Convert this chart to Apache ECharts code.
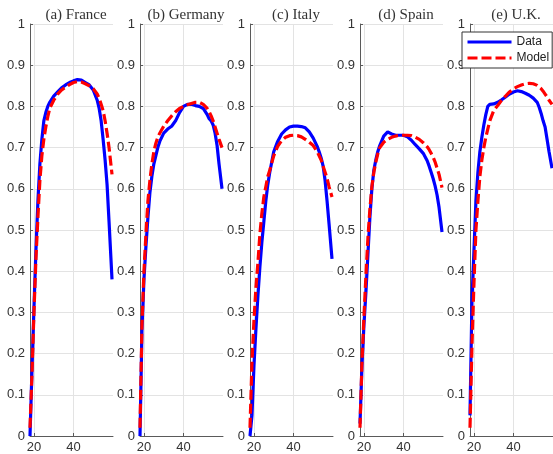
<!DOCTYPE html>
<html>
<head>
<meta charset="utf-8">
<script src="https://cdn.jsdelivr.net/npm/echarts@6/dist/echarts.min.js"></script>
<style>
  html, body { margin: 0; padding: 0; background: #fff; }
  #main { width: 553px; height: 454px; }
</style>
</head>
<body>
<div id="main"></div>
<script>
// ages (x values shared by all panels)
var ages = [18, 19, 20, 21, 22, 23, 24, 25, 26, 27, 28, 30, 32, 34, 36, 38, 40, 42, 44, 46, 48, 50, 52, 53, 54, 55, 56, 57, 58, 59.5];

var titles = ["(a) France", "(b) Germany", "(c) Italy", "(d) Spain", "(e) U.K."];

var franceData = [0, 0.16, 0.31, 0.45, 0.57, 0.66, 0.72, 0.765, 0.785, 0.80, 0.81, 0.825, 0.835, 0.845, 0.852, 0.858, 0.862, 0.865, 0.864, 0.858, 0.852, 0.84, 0.815, 0.795, 0.765, 0.72, 0.67, 0.61, 0.52, 0.38];
var franceModel = [0.02, 0.15, 0.30, 0.43, 0.53, 0.62, 0.68, 0.72, 0.75, 0.775, 0.795, 0.815, 0.83, 0.84, 0.847, 0.853, 0.858, 0.86, 0.859, 0.855, 0.85, 0.843, 0.83, 0.82, 0.805, 0.79, 0.765, 0.735, 0.70, 0.635];

var germanyData = [0, 0.26, 0.38, 0.46, 0.53, 0.59, 0.63, 0.66, 0.68, 0.70, 0.715, 0.735, 0.745, 0.752, 0.765, 0.785, 0.80, 0.805, 0.805, 0.802, 0.80, 0.795, 0.78, 0.77, 0.765, 0.755, 0.735, 0.705, 0.66, 0.60];
var germanyModel = [0.02, 0.27, 0.40, 0.49, 0.57, 0.62, 0.66, 0.69, 0.71, 0.725, 0.735, 0.752, 0.765, 0.777, 0.787, 0.795, 0.80, 0.804, 0.807, 0.81, 0.81, 0.805, 0.795, 0.787, 0.777, 0.765, 0.75, 0.735, 0.72, 0.70];

var italyData = [0, 0.05, 0.17, 0.26, 0.34, 0.41, 0.47, 0.52, 0.57, 0.61, 0.64, 0.69, 0.715, 0.733, 0.743, 0.75, 0.752, 0.752, 0.751, 0.748, 0.738, 0.723, 0.703, 0.69, 0.675, 0.655, 0.62, 0.57, 0.515, 0.43];
var italyModel = [0.02, 0.18, 0.28, 0.36, 0.42, 0.49, 0.54, 0.58, 0.605, 0.63, 0.645, 0.68, 0.703, 0.717, 0.725, 0.729, 0.73, 0.729, 0.726, 0.72, 0.713, 0.705, 0.69, 0.68, 0.67, 0.655, 0.64, 0.625, 0.605, 0.58];

var spainData = [0.03, 0.17, 0.27, 0.35, 0.44, 0.53, 0.60, 0.645, 0.67, 0.69, 0.705, 0.728, 0.738, 0.733, 0.73, 0.73, 0.73, 0.726, 0.718, 0.707, 0.697, 0.686, 0.668, 0.655, 0.64, 0.625, 0.607, 0.585, 0.555, 0.495];
var spainModel = [0.02, 0.18, 0.29, 0.39, 0.48, 0.55, 0.605, 0.64, 0.665, 0.685, 0.70, 0.713, 0.72, 0.725, 0.728, 0.73, 0.73, 0.73, 0.729, 0.725, 0.72, 0.712, 0.702, 0.695, 0.686, 0.677, 0.665, 0.65, 0.635, 0.603];

var ukData = [0.05, 0.33, 0.45, 0.57, 0.64, 0.69, 0.725, 0.755, 0.78, 0.80, 0.805, 0.806, 0.81, 0.816, 0.823, 0.83, 0.835, 0.838, 0.836, 0.832, 0.827, 0.82, 0.81, 0.798, 0.783, 0.765, 0.75, 0.72, 0.69, 0.65];
var ukModel = [0.02, 0.22, 0.37, 0.50, 0.57, 0.63, 0.67, 0.70, 0.725, 0.745, 0.765, 0.79, 0.802, 0.815, 0.825, 0.835, 0.843, 0.848, 0.852, 0.855, 0.856, 0.855, 0.851, 0.847, 0.843, 0.837, 0.83, 0.823, 0.815, 0.805];

var xTicks = [20, 40];

var dataSets = [franceData, germanyData, italyData, spainData, ukData];
var modelSets = [franceModel, germanyModel, italyModel, spainModel, ukModel];

function pairs(vals) {
  return ages.map(function (a, i) { return [a, vals[i]]; });
}

var chart = echarts.init(document.getElementById("main"));
var grids = [], xAxes = [], yAxes = [], series = [], titleList = [];
var axisColor = "#5a5a5a";
var textColor = "#333";

for (var i = 0; i < 5; i++) {
  var left = 30 + 110 * i;
  grids.push({ left: left, top: 24, width: 83, height: 413 });
  titleList.push({
    text: titles[i],
    left: left + 41,
    top: 3,
    textAlign: "center",
    textStyle: { fontFamily: "Liberation Serif", fontSize: 15, fontWeight: "normal", color: "#333" }
  });
  xAxes.push({
    type: "value", gridIndex: i, min: 18, max: 60,
    axisLine: { show: true, onZero: false, lineStyle: { color: axisColor } },
    axisTick: { show: true, inside: true, length: 3, customValues: xTicks, lineStyle: { color: axisColor } },
    axisLabel: { customValues: xTicks, fontFamily: "Liberation Sans", fontSize: 13, color: textColor, margin: 5 },
    splitLine: { show: true, lineStyle: { color: "#e3e3e3" } }
  });
  yAxes.push({
    type: "value", gridIndex: i, min: 0, max: 1, interval: 0.1,
    axisLine: { show: true, lineStyle: { color: axisColor } },
    axisTick: { show: true, inside: true, length: 3, lineStyle: { color: axisColor } },
    axisLabel: {
      fontFamily: "Liberation Sans", fontSize: 13, color: textColor, margin: 5,
      formatter: function (v) { return String(+v.toFixed(1)); }
    },
    splitLine: { show: true, lineStyle: { color: "#e3e3e3" } }
  });
  series.push({
    name: "Data", type: "line", xAxisIndex: i, yAxisIndex: i,
    data: pairs(dataSets[i]), symbol: "none",
    lineStyle: { color: "#0000ff", width: 3.2 }, itemStyle: { color: "#0000ff" }
  });
  series.push({
    name: "Model", type: "line", xAxisIndex: i, yAxisIndex: i,
    data: pairs(modelSets[i]), symbol: "none",
    lineStyle: { color: "#ff0000", width: 3.2, type: [10, 4] }, itemStyle: { color: "#ff0000" }
  });
}

var option = {
  animation: false,
  title: titleList,
  legend: {
    data: ["Data", "Model"],
    orient: "vertical",
    left: 462, top: 32,
    padding: [4, 3, 4, 4],
    itemGap: 4,
    itemWidth: 44, itemHeight: 12,
    itemStyle: { opacity: 0 },
    lineStyle: { width: 3 },
    backgroundColor: "#fff",
    borderColor: "#333", borderWidth: 1,
    textStyle: { fontFamily: "Liberation Sans", fontSize: 12, color: "#222" }
  },
  grid: grids,
  xAxis: xAxes,
  yAxis: yAxes,
  series: series
};
option && chart.setOption(option);
</script>
</body>
</html>
